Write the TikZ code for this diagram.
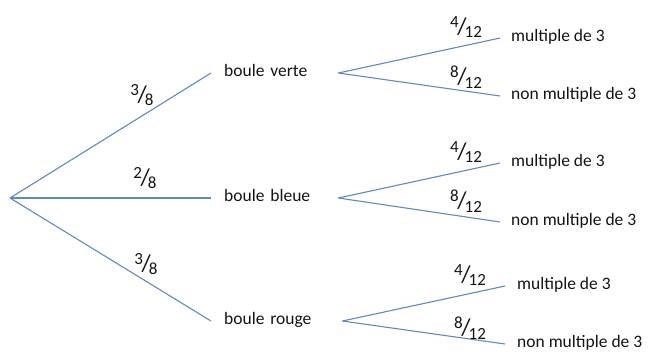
\documentclass[tikz,border=0pt]{standalone}
\usepackage{fontspec}
\setmainfont{Carlito}
\definecolor{branch}{RGB}{96,136,196}
\definecolor{ink}{RGB}{20,20,20}
% probability written as a slanted fraction: raised numerator, slash, lowered denominator
\newcommand{\slfrac}[2]{\raisebox{0.42em}{#1}\kern-0.08em{\fontsize{24}{24}\selectfont/}\kern-0.12em\raisebox{-0.22em}{#2}}
\begin{document}
\begin{tikzpicture}[x=1pt,y=-1pt,
  branchline/.style={draw=branch,line width=1.1pt},
  txt/.style={font=\fontsize{17.5}{20}\selectfont,text=ink,text height=0.7em,text depth=0pt,inner ysep=0pt},
  firstlevel/.style={txt,anchor=west,inner xsep=13pt,align=left},
  leaf/.style={txt,anchor=west,inner xsep=11pt},
  prob/.style={font=\fontsize{17}{20}\selectfont,text=ink,inner sep=0pt}]
\useasboundingbox (0,0) rectangle (651,351);
\clip (0,0) rectangle (651,351);

% root and first-level outcomes
\coordinate (root) at (10,198);
\node[firstlevel,text width=101pt] (verte) at (211,73) {boule verte};
\node[firstlevel,text width=101pt] (bleue) at (211,198) {boule bleue};
\node[firstlevel,text width=105pt] (rouge) at (211,321) {boule rouge};

\draw[branchline] (root) -- (verte.west);
\draw[branchline] (root) -- (bleue.west);
\draw[branchline] (root) -- (rouge.west);

\node[prob] (pv) at (142,95) {\slfrac{3}{8}};
\node[prob] (pb) at (145,178) {\slfrac{2}{8}};
\node[prob] (pr) at (146,264) {\slfrac{3}{8}};

% second level after a green ball
\node[leaf] (vm) at (500,38) {multiple de 3};
\node[leaf] (vn) at (500,96) {non multiple de 3};
\draw[branchline] (verte.east) -- (vm.west);
\draw[branchline] (verte.east) -- (vn.west);
\node[prob] (pvm) at (466,27) {\slfrac{4}{12}};
\node[prob] (pvn) at (466,77) {\slfrac{8}{12}};

% second level after a blue ball
\node[leaf] (bm) at (500,163) {multiple de 3};
\node[leaf] (bn) at (500,222) {non multiple de 3};
\draw[branchline] (bleue.east) -- (bm.west);
\draw[branchline] (bleue.east) -- (bn.west);
\node[prob] (pbm) at (466,152) {\slfrac{4}{12}};
\node[prob] (pbn) at (466,201) {\slfrac{8}{12}};

% second level after a red ball
\node[leaf,inner xsep=12pt] (rm) at (505,286) {multiple de 3};
\node[leaf,inner xsep=12pt] (rn) at (505,344) {non multiple de 3};
\draw[branchline] (rouge.east) -- (rm.west);
\draw[branchline] (rouge.east) -- (rn.west);
\node[prob] (prm) at (470,275) {\slfrac{4}{12}};
\node[prob] (prn) at (470,328) {\slfrac{8}{12}};
\end{tikzpicture}
\end{document}
